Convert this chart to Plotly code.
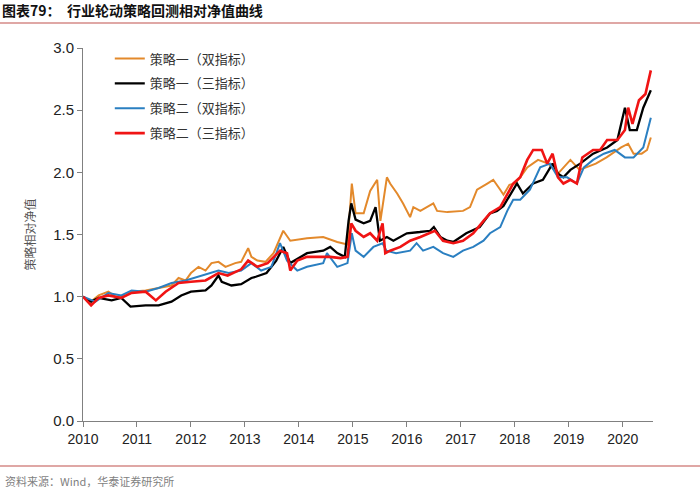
import plotly.graph_objects as go

# ---- data (decimal years, relative NAV) ----
orange_x = [2010.0, 2010.15, 2010.29, 2010.47, 2010.6, 2010.79, 2010.9, 2011.16, 2011.4, 2011.64,
            2011.77, 2011.9, 2012.0, 2012.14, 2012.27, 2012.38, 2012.51, 2012.64, 2012.82, 2012.93,
            2013.06, 2013.12, 2013.23, 2013.38, 2013.53, 2013.71, 2013.84, 2014.15, 2014.45, 2014.71,
            2014.9, 2014.98, 2015.05, 2015.2, 2015.32, 2015.45, 2015.51, 2015.63, 2015.69, 2015.82,
            2015.93, 2016.06, 2016.12, 2016.25, 2016.49, 2016.56, 2016.75, 2017.04, 2017.17, 2017.3,
            2017.49, 2017.6, 2017.73, 2017.79, 2017.9, 2018.0, 2018.1, 2018.23, 2018.43, 2018.62,
            2018.8, 2019.03, 2019.2, 2019.5, 2019.7, 2019.97, 2020.1, 2020.2, 2020.35, 2020.45, 2020.52]
orange_y = [1.00, 0.96, 1.01, 1.04, 1.00, 1.01, 1.04, 1.05, 1.07, 1.09,
            1.15, 1.13, 1.19, 1.24, 1.21, 1.27, 1.28, 1.24, 1.27, 1.28,
            1.39, 1.32, 1.29, 1.28, 1.35, 1.53, 1.45, 1.47, 1.48, 1.44,
            1.42, 1.91, 1.67, 1.67, 1.85, 1.94, 1.61, 1.96, 1.91, 1.83,
            1.75, 1.64, 1.72, 1.69, 1.75, 1.69, 1.68, 1.69, 1.72, 1.86,
            1.91, 1.94, 1.86, 1.82, 1.90, 1.91, 1.96, 2.04, 2.10, 2.07,
            1.99, 2.10, 2.02, 2.07, 2.12, 2.20, 2.23, 2.15, 2.15, 2.18, 2.28]

black_x = [2010.0, 2010.15, 2010.29, 2010.53, 2010.71, 2010.88, 2011.16, 2011.4, 2011.64, 2011.82,
           2012.0, 2012.27, 2012.38, 2012.51, 2012.57, 2012.75, 2012.93, 2013.12, 2013.2, 2013.4,
           2013.58, 2013.71, 2013.84, 2014.02, 2014.15, 2014.45, 2014.58, 2014.71, 2014.85, 2014.92,
           2014.97, 2015.05, 2015.2, 2015.32, 2015.42, 2015.5, 2015.63, 2015.75, 2016.0, 2016.24,
           2016.43, 2016.5, 2016.62, 2016.75, 2016.86, 2017.1, 2017.35, 2017.54, 2017.67, 2017.79,
           2017.92, 2018.04, 2018.15, 2018.34, 2018.52, 2018.7, 2018.8, 2018.9, 2019.03, 2019.21,
           2019.45, 2019.71, 2019.9, 2020.04, 2020.13, 2020.26, 2020.38, 2020.52]
black_y = [1.00, 0.96, 0.99, 0.97, 0.99, 0.92, 0.93, 0.93, 0.96, 1.01,
           1.04, 1.05, 1.09, 1.17, 1.12, 1.09, 1.10, 1.15, 1.16, 1.19,
           1.29, 1.40, 1.27, 1.32, 1.35, 1.37, 1.40, 1.35, 1.32, 1.61,
           1.75, 1.62, 1.59, 1.61, 1.72, 1.45, 1.48, 1.45, 1.51, 1.52,
           1.53, 1.56, 1.48, 1.45, 1.44, 1.51, 1.56, 1.67, 1.69, 1.73,
           1.83, 1.91, 1.83, 1.91, 1.94, 2.07, 1.99, 1.96, 2.02, 2.07,
           2.15, 2.20, 2.26, 2.52, 2.34, 2.34, 2.52, 2.66]

blue_x = [2010.0, 2010.23, 2010.47, 2010.71, 2010.9, 2011.16, 2011.4, 2011.64, 2011.9, 2012.14,
          2012.38, 2012.51, 2012.7, 2012.93, 2013.12, 2013.3, 2013.49, 2013.65, 2013.78, 2013.97,
          2014.15, 2014.45, 2014.52, 2014.71, 2014.9, 2014.98, 2015.05, 2015.2, 2015.38, 2015.55,
          2015.62, 2015.8, 2016.06, 2016.18, 2016.3, 2016.49, 2016.67, 2016.86, 2017.04, 2017.23,
          2017.42, 2017.54, 2017.73, 2017.86, 2017.97, 2018.1, 2018.28, 2018.47, 2018.65, 2018.8,
          2018.97, 2019.15, 2019.28, 2019.45, 2019.65, 2019.85, 2020.04, 2020.2, 2020.38, 2020.52]
blue_y = [1.00, 0.96, 1.03, 1.01, 1.05, 1.04, 1.07, 1.11, 1.13, 1.16,
          1.19, 1.21, 1.19, 1.21, 1.27, 1.21, 1.24, 1.43, 1.29, 1.21,
          1.24, 1.27, 1.35, 1.24, 1.27, 1.51, 1.37, 1.32, 1.40, 1.43,
          1.37, 1.35, 1.37, 1.43, 1.37, 1.40, 1.35, 1.32, 1.37, 1.40,
          1.45, 1.51, 1.56, 1.69, 1.78, 1.78, 1.86, 2.04, 2.07, 1.96,
          1.96, 1.91, 2.04, 2.10, 2.15, 2.18, 2.12, 2.12, 2.20, 2.44]

red_x = [2010.0, 2010.15, 2010.29, 2010.47, 2010.71, 2010.9, 2011.16, 2011.35, 2011.53, 2011.77,
         2012.0, 2012.27, 2012.51, 2012.68, 2012.93, 2013.06, 2013.23, 2013.42, 2013.65, 2013.78,
         2013.84, 2013.97, 2014.15, 2014.4, 2014.58, 2014.77, 2014.9, 2014.97, 2015.05, 2015.2,
         2015.32, 2015.45, 2015.55, 2015.6, 2015.69, 2015.88, 2016.06, 2016.25, 2016.43, 2016.52,
         2016.67, 2016.86, 2017.04, 2017.23, 2017.42, 2017.54, 2017.73, 2017.86, 2017.97, 2018.1,
         2018.23, 2018.34, 2018.5, 2018.6, 2018.7, 2018.8, 2018.9, 2019.03, 2019.15, 2019.25,
         2019.45, 2019.58, 2019.71, 2019.9, 2020.04, 2020.1, 2020.18, 2020.3, 2020.42, 2020.52]
red_y = [1.00, 0.93, 0.99, 1.01, 0.99, 1.03, 1.04, 0.97, 1.04, 1.11,
         1.12, 1.13, 1.19, 1.17, 1.22, 1.29, 1.24, 1.27, 1.37, 1.35,
         1.21, 1.29, 1.32, 1.32, 1.32, 1.31, 1.32, 1.59, 1.53, 1.48,
         1.51, 1.45, 1.59, 1.35, 1.37, 1.40, 1.45, 1.48, 1.51, 1.53,
         1.45, 1.43, 1.45, 1.51, 1.61, 1.67, 1.72, 1.83, 1.91, 1.96,
         2.10, 2.18, 2.18, 2.07, 2.15, 1.96, 1.91, 1.94, 1.91, 2.12,
         2.18, 2.18, 2.26, 2.26, 2.34, 2.52, 2.39, 2.58, 2.63, 2.82]

names = ["策略一（双指标）", "策略一（三指标）", "策略二（双指标）", "策略二（三指标）"]
year_ticks = list(range(2010, 2021))
y_ticks = [0.0, 0.5, 1.0, 1.5, 2.0, 2.5, 3.0]

series = [
    (orange_x, orange_y, "#E3892B", 2.0),
    (black_x, black_y, "#000000", 2.3),
    (blue_x, blue_y, "#2A7FC1", 2.0),
    (red_x, red_y, "#F01414", 2.6),
]

fig = go.Figure()
for i, (xs, ys, col, w) in enumerate(series):
    fig.add_trace(go.Scatter(x=xs, y=ys, mode="lines", name=names[i],
                             line=dict(color=col, width=w), legendgroup=str(i)))

fig.update_layout(
    width=700, height=491,
    margin=dict(l=83, r=47, t=48, b=70),
    paper_bgcolor="white", plot_bgcolor="white",
    font=dict(family="Liberation Sans, Arial, sans-serif", color="#222222"),
    showlegend=True,
    legend=dict(x=0.047, y=1.012, xanchor="left", yanchor="top",
                font=dict(family="Noto Sans CJK SC", size=13, color="#333333"),
                bgcolor="rgba(0,0,0,0)", tracegroupgap=5, traceorder="grouped"),
    xaxis=dict(range=[2010, 2020.56], tickmode="array", tickvals=year_ticks,
               ticktext=[str(v) for v in year_ticks], showgrid=False, zeroline=False,
               showline=True, linecolor="#808080", linewidth=1,
               ticks="outside", ticklen=5, tickcolor="#808080",
               tickfont=dict(size=14, color="#222222")),
    yaxis=dict(range=[0, 3], tickmode="array", tickvals=y_ticks,
               ticktext=[f"{v:.1f}" for v in y_ticks], showgrid=False, zeroline=False,
               showline=True, linecolor="#808080", linewidth=1,
               ticks="outside", ticklen=5, tickcolor="#808080",
               tickfont=dict(size=15, color="#222222"),
               title=dict(text="策略相对净值", standoff=14,
                          font=dict(family="Noto Sans CJK SC", size=12, color="#555555"))),
)

# header / footer
fig.add_annotation(xref="paper", yref="paper", x=-83/570, y=1 + 38/373, xanchor="left", yanchor="middle",
                   text="<b>图表79：  行业轮动策略回测相对净值曲线</b>", showarrow=False,
                   font=dict(family="Noto Sans CJK SC", size=14, color="#111111"))
fig.add_annotation(xref="paper", yref="paper", x=-80/570, y=-60/373, xanchor="left", yanchor="middle",
                   text="资料来源：Wind，华泰证券研究所", showarrow=False,
                   font=dict(family="Noto Sans CJK SC", size=11, color="#7F7F7F"))
fig.add_shape(type="line", xref="paper", yref="paper", x0=-83/570, x1=617/570,
              y0=1 + 25/373, y1=1 + 25/373, line=dict(color="#C0504D", width=1.2))
fig.add_shape(type="line", xref="paper", yref="paper", x0=-83/570, x1=617/570,
              y0=-45/373, y1=-45/373, line=dict(color="#C0504D", width=1.2))

fig.write_html("out.html", config={"displayModeBar": False},
               post_script="document.body.style.margin='0';")
